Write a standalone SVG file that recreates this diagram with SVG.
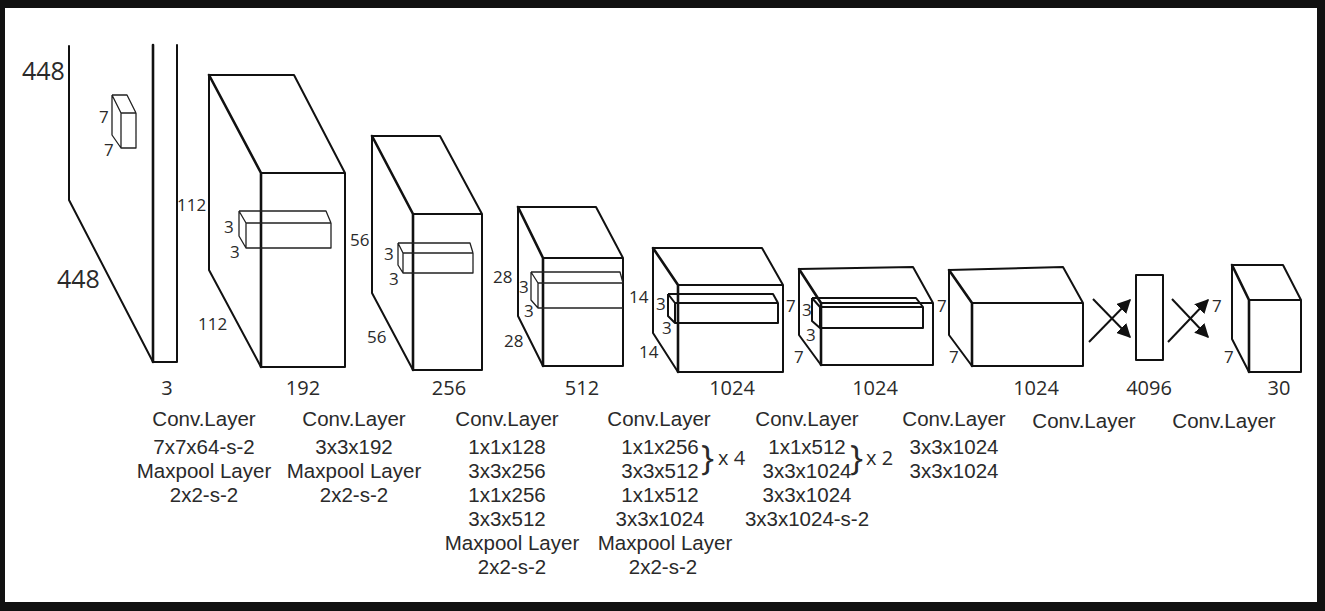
<svg xmlns="http://www.w3.org/2000/svg" width="1325" height="611" viewBox="0 0 1325 611">
<defs>
<style>
.e{fill:none;stroke:#111;stroke-width:2;stroke-linejoin:round;stroke-linecap:round}
.t{stroke-width:2.6}
.s{fill:none;stroke:#222;stroke-width:1.3;stroke-linejoin:round}
.sb{fill:none;stroke:#111;stroke-width:2;stroke-linejoin:round}
text{font-family:"Open Sans","Noto Sans","Liberation Sans",sans-serif;fill:#2a2a2a}
.lab{font-size:17px}
.num{font-size:20px;text-anchor:middle}
.cap{font-family:"Liberation Sans",Arial,sans-serif;font-size:20.5px;text-anchor:middle}
.big{font-size:25px}
.br{font-size:35px}
.ar{fill:none;stroke:#111;stroke-width:2}
</style>
<marker id="ah" viewBox="0 0 10 10" refX="9" refY="5" markerWidth="14" markerHeight="14" markerUnits="userSpaceOnUse" orient="auto">
<path d="M0,0 L10,5 L0,10 Z" fill="#111"/>
</marker>
</defs>
<rect x="0" y="0" width="1325" height="611" fill="#111"/>
<rect x="5" y="8" width="1312" height="594" fill="#fff"/>

<g id="input">
<path class="e" d="M69,46 V200 L153,362"/>
<path class="e t" d="M153,45 V362"/>
<path class="e" d="M177,45 V362 H153"/>
<path class="s" d="M112,95 H127 L136,113 M112,95 V135 L121,148 M121,113 H136 V148 H121 Z M112,95 L121,113"/>
<text class="big" x="22" y="80">448</text>
<text class="big" x="57" y="288">448</text>
<text class="lab" x="99" y="123">7</text>
<text class="lab" x="104" y="156">7</text>
<text class="num" x="167" y="395">3</text>
</g>

<g id="layer2">
<path class="e t" d="M209,75 L261,173 V367"/>
<path class="e" d="M209,75 H294 L345,173 H261 M345,173 V367 H261 M209,75 V270 L261,367"/>
<path class="s" d="M239,211 H326 L331,223 M239,211 V236 L246,248 M239,211 L246,223 M246,223 H331 V248 H246 Z"/>
<text class="lab" x="177" y="211">112</text>
<text class="lab" x="224" y="233">3</text>
<text class="lab" x="230" y="258">3</text>
<text class="lab" x="198" y="330">112</text>
<text class="num" x="303" y="395">192</text>
</g>

<g id="layer3">
<path class="e t" d="M372,136 L413,214 V370"/>
<path class="e" d="M372,136 H440 L482,214 H413 M482,214 V370 H413 M372,136 V293 L413,370"/>
<path class="s" d="M398,243 H470 L473,253 M398,243 V265 L403,273 M398,243 L403,253 M403,253 H473 V273 H403 Z"/>
<text class="lab" x="350" y="246">56</text>
<text class="lab" x="384" y="260">3</text>
<text class="lab" x="389" y="285">3</text>
<text class="lab" x="367" y="343">56</text>
<text class="num" x="449" y="395">256</text>
</g>

<g id="layer4">
<path class="e t" d="M518,207 L543,258 V366"/>
<path class="e" d="M518,207 H596 L623,258 H543 M623,258 V366 H543 M518,207 V316 L543,366"/>
<path class="s" d="M531,272 H620 L623,283 M531,272 V300 L538,308 M531,272 L538,283 M538,283 H623 M538,283 V308 H623"/>
<text class="lab" x="493" y="283">28</text>
<text class="lab" x="519" y="293">3</text>
<text class="lab" x="524" y="317">3</text>
<text class="lab" x="504" y="347">28</text>
<text class="num" x="582" y="395">512</text>
</g>

<g id="layer5">
<path class="e t" d="M653,248 L678,285 V372"/>
<path class="e" d="M653,248 H762 L783,285 H678 M783,285 V372 H678 M653,248 V333 L678,372"/>
<path class="sb" d="M668,294 H773 L778,303 M668,294 V316 L675,323 M668,294 L675,303 M675,303 H778 V323 H675 Z"/>
<text class="lab" x="629" y="303">14</text>
<text class="lab" x="656" y="310">3</text>
<text class="lab" x="662" y="334">3</text>
<text class="lab" x="639" y="358">14</text>
<text class="lab" x="786" y="312">7</text>
<text class="num" x="732" y="395">1024</text>
</g>

<g id="layer6">
<path class="e t" d="M799,269 L821,303 V365"/>
<path class="e" d="M799,269 L913,267 L933,303 H821 M933,303 V365 H821 M799,269 V335 L821,365"/>
<path class="sb" d="M812,298 H916 L923,307 M812,298 V321 L820,328 M812,298 L820,307 M820,307 H923 V328 H820 Z"/>
<text class="lab" x="802" y="316">3</text>
<text class="lab" x="806" y="341">3</text>
<text class="lab" x="794" y="363">7</text>
<text class="num" x="875" y="395">1024</text>
</g>

<g id="layer7">
<path class="e t" d="M949,270 L972,303 V366"/>
<path class="e" d="M949,270 L1063,267 L1083,303 H972 M1083,303 V366 H972 M949,270 V335 L972,366"/>
<text class="lab" x="937" y="312">7</text>
<text class="lab" x="949" y="363">7</text>
<text class="num" x="1036" y="395">1024</text>
</g>

<g id="fc4096">
<rect class="e" x="1136" y="275" width="27" height="85"/>
<text class="num" x="1149" y="395">4096</text>
</g>

<g id="output">
<path class="e t" d="M1232,265 L1249,300 V372"/>
<path class="e" d="M1232,265 H1283 L1301,300 H1249 M1301,300 V372 H1249 M1232,265 V339 L1249,372"/>
<text class="lab" x="1212" y="312">7</text>
<text class="lab" x="1224" y="363">7</text>
<text class="num" x="1279" y="395">30</text>
</g>

<g id="connectors">
<line class="ar" x1="1093" y1="299" x2="1130" y2="337" marker-end="url(#ah)"/>
<line class="ar" x1="1089" y1="342" x2="1130" y2="300" marker-end="url(#ah)"/>
<line class="ar" x1="1172" y1="299" x2="1208" y2="337" marker-end="url(#ah)"/>
<line class="ar" x1="1168" y1="342" x2="1208" y2="300" marker-end="url(#ah)"/>
</g>

<g id="captions">
<text class="cap" x="204" y="426">Conv.Layer</text>
<text class="cap" x="204" y="454">7x7x64-s-2</text>
<text class="cap" x="204" y="478">Maxpool Layer</text>
<text class="cap" x="204" y="502">2x2-s-2</text>

<text class="cap" x="354" y="426">Conv.Layer</text>
<text class="cap" x="354" y="454">3x3x192</text>
<text class="cap" x="354" y="478">Maxpool Layer</text>
<text class="cap" x="354" y="502">2x2-s-2</text>

<text class="cap" x="507" y="426">Conv.Layer</text>
<text class="cap" x="507" y="454">1x1x128</text>
<text class="cap" x="507" y="478">3x3x256</text>
<text class="cap" x="507" y="502">1x1x256</text>
<text class="cap" x="507" y="526">3x3x512</text>
<text class="cap" x="512" y="550">Maxpool Layer</text>
<text class="cap" x="512" y="574">2x2-s-2</text>

<text class="cap" x="659" y="426">Conv.Layer</text>
<text class="cap" x="660" y="454">1x1x256</text>
<text class="cap" x="660" y="478">3x3x512</text>
<text class="cap" x="660" y="502">1x1x512</text>
<text class="cap" x="660" y="526">3x3x1024</text>
<text class="cap" x="665" y="550">Maxpool Layer</text>
<text class="cap" x="663" y="574">2x2-s-2</text>
<text class="br" x="701" y="470">}</text>
<text x="718" y="465" font-size="20">x 4</text>

<text class="cap" x="807" y="426">Conv.Layer</text>
<text class="cap" x="807" y="454">1x1x512</text>
<text class="cap" x="807" y="478">3x3x1024</text>
<text class="cap" x="807" y="502">3x3x1024</text>
<text class="cap" x="807" y="526">3x3x1024-s-2</text>
<text class="br" x="850" y="470">}</text>
<text x="866" y="465" font-size="20">x 2</text>

<text class="cap" x="954" y="426">Conv.Layer</text>
<text class="cap" x="954" y="454">3x3x1024</text>
<text class="cap" x="954" y="478">3x3x1024</text>

<text class="cap" x="1084" y="428">Conv.Layer</text>
<text class="cap" x="1224" y="428">Conv.Layer</text>
</g>
</svg>
